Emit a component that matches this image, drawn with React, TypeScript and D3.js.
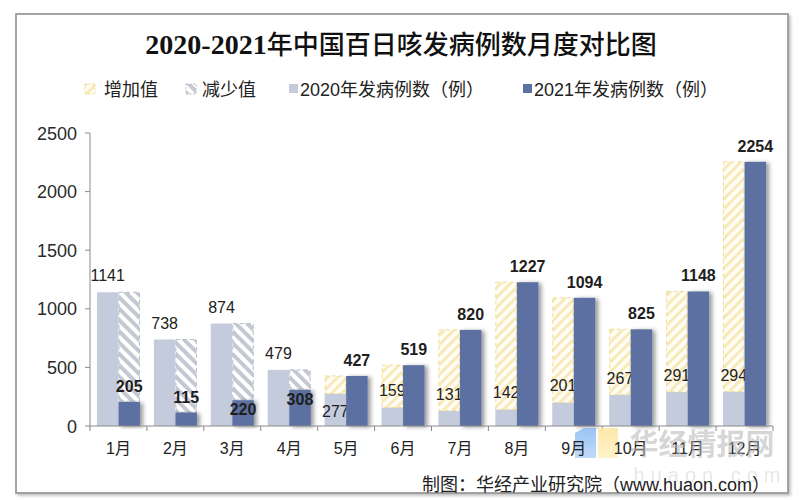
import React from 'react';
import * as d3 from 'd3';

const months = ['1月', '2月', '3月', '4月', '5月', '6月', '7月', '8月', '9月', '10月', '11月', '12月'];
const cases2020 = [1141, 738, 874, 479, 277, 159, 131, 142, 201, 267, 291, 294];
const cases2021 = [205, 115, 220, 308, 427, 519, 820, 1227, 1094, 825, 1148, 2254];
const yTicks = [0, 500, 1000, 1500, 2000, 2500];
const legendLabels = ['增加值', '减少值', '2020年发病例数（例）', '2021年发病例数（例）'];
const titleYears = '2020-2021';
const titleRest = '年中国百日咳发病例数月度对比图';
const sourceText = '制图：华经产业研究院（www.huaon.com）';
const watermark = '华经情报网';
const watermarkUrl = 'huaon.com';
// months whose data labels Excel placed inside the bar end
const inside2020 = ['5月'];
const inside2021 = ['3月', '4月'];

const C_LIGHT = '#c3cbdd';
const C_DARK = '#5b71a1';
const SANS = '"Liberation Sans", Arial, "Noto Sans CJK SC", sans-serif';

export default function App() {
  const x = d3.scaleBand<string>().domain(months).range([90, 773]).padding(0);
  const y = d3.scaleLinear().domain([0, 2500]).range([426, 133]);
  const bw = x.bandwidth() * 0.378;
  const cx = (m: string) => (x(m) as number) + x.bandwidth() / 2;

  const rows = months.map((m, i) => ({ m, a: cases2020[i], b: cases2021[i] }));

  const legendX = [85, 186, 289, 523];

  return (
    <svg width={800} height={500} style={{ position: 'absolute', left: 0, top: 0, display: 'block', background: '#fff' }}>
      <defs>
        <pattern id="hatchY" patternUnits="userSpaceOnUse" width={7} height={7} patternTransform="rotate(45)">
          <rect width={7} height={7} fill="#fffdf6" />
          <rect width={3} height={7} fill="#f8e9b8" />
        </pattern>
        <pattern id="hatchG" patternUnits="userSpaceOnUse" width={8} height={8} patternTransform="rotate(-45)">
          <rect width={8} height={8} fill="#ffffff" />
          <rect width={4} height={8} fill="#c4c8d2" />
        </pattern>
        <filter id="shadow" x="-20%" y="-5%" width="160%" height="115%">
          <feDropShadow dx={3} dy={1} stdDeviation={2.2} floodColor="#000" floodOpacity={0.4} />
        </filter>
        <filter id="frameShadow" x="-5%" y="-5%" width="110%" height="110%">
          <feDropShadow dx={2} dy={2} stdDeviation={1.5} floodColor="#000" floodOpacity={0.25} />
        </filter>
        <linearGradient id="logoBlue" x1="0" y1="0" x2="0" y2="1">
          <stop offset="0" stopColor="#8fbdf3" />
          <stop offset="1" stopColor="#b9d6f7" />
        </linearGradient>
        <linearGradient id="logoYellow" x1="0" y1="0" x2="0" y2="1">
          <stop offset="0" stopColor="#fde6a0" />
          <stop offset="1" stopColor="#fff1c6" />
        </linearGradient>
      </defs>

      {/* frame */}
      <rect x={16} y={14} width={772} height={479} fill="#fff" stroke="#8f8f8f" strokeWidth={1.6} filter="url(#frameShadow)" />

      {/* title */}
      <text x={401} y={54} textAnchor="middle" fill="#111">
        <tspan fontFamily='"Liberation Serif", "Times New Roman", serif' fontWeight={700} fontSize={28}>{titleYears}</tspan>
        <tspan fontFamily='"Noto Sans CJK SC", sans-serif' fontWeight={500} fontSize={26}>{titleRest}</tspan>
      </text>

      {/* legend */}
      <g fontFamily={SANS} fontSize={18} fill="#222">
        <rect x={legendX[0]} y={84} width={10} height={10} fill="url(#hatchY)" stroke="#f0d98c" strokeDasharray="2,1.5" />
        <text x={legendX[0] + 19} y={95.5}>{legendLabels[0]}</text>
        <rect x={legendX[1]} y={84} width={10} height={10} fill="url(#hatchG)" stroke="#b8bcc6" strokeDasharray="2,1.5" />
        <text x={legendX[1] + 16} y={95.5}>{legendLabels[1]}</text>
        <rect x={legendX[2]} y={84} width={9} height={9} fill={C_LIGHT} />
        <text x={legendX[2] + 11} y={95.5}>{legendLabels[2]}</text>
        <rect x={legendX[3]} y={84} width={9} height={9} fill={C_DARK} />
        <text x={legendX[3] + 11} y={95.5}>{legendLabels[3]}</text>
      </g>

      {/* 2020 bars */}
      {rows.map(r => (
        <rect key={'a' + r.m} x={cx(r.m) - bw} y={y(r.a)} width={bw} height={y(0) - y(r.a)} fill={C_LIGHT} />
      ))}

      {/* increase (hatched yellow, above 2020 bar) */}
      {rows.filter(r => r.b > r.a).map(r => (
        <rect key={'inc' + r.m} x={cx(r.m) - bw + 0.5} y={y(r.b)} width={bw - 1} height={y(r.a) - y(r.b)}
          fill="url(#hatchY)" stroke="#f1dc96" strokeWidth={1} strokeDasharray="4,3" />
      ))}

      {/* decrease (hatched gray, above 2021 bar) */}
      {rows.filter(r => r.a > r.b).map(r => (
        <rect key={'dec' + r.m} x={cx(r.m) + 0.5} y={y(r.a)} width={bw - 1} height={y(r.b) - y(r.a)}
          fill="url(#hatchG)" stroke="#b9bdc6" strokeWidth={1} strokeDasharray="4,3" />
      ))}

      {/* 2020 labels */}
      <g fontFamily={SANS} fontSize={16} fill="#222" textAnchor="middle">
        {rows.map(r => {
          const inside = inside2020.includes(r.m);
          const cy = inside ? y(r.a) + 17 : y(r.a) - 17;
          return <text key={'la' + r.m} x={cx(r.m) - bw / 2} y={cy + 6}>{r.a}</text>;
        })}
      </g>

      {/* 2021 bars */}
      {rows.map(r => (
        <rect key={'b' + r.m} x={cx(r.m)} y={y(r.b)} width={bw} height={y(0) - y(r.b)} fill={C_DARK} filter="url(#shadow)" />
      ))}

      {/* 2021 labels */}
      <g fontFamily={SANS} fontSize={16} fontWeight={700} fill="#1e1e1e" textAnchor="middle">
        {rows.map(r => {
          const inside = inside2021.includes(r.m);
          const cy = inside ? y(r.b) + 9 : y(r.b) - 16;
          return <text key={'lb' + r.m} x={cx(r.m) + bw / 2} y={cy + 6}>{r.b}</text>;
        })}
      </g>

      {/* axes */}
      <g stroke="#8a8a8a" strokeWidth={1}>
        <line x1={90} x2={90} y1={y(2500)} y2={y(0)} />
        {yTicks.map(t => (
          <line key={'yt' + t} x1={85} x2={90} y1={y(t)} y2={y(t)} />
        ))}
        <line x1={90} x2={773} y1={y(0)} y2={y(0)} />
        {[...months.map(m => x(m) as number), 773].map((v, i) => (
          <line key={'xt' + i} x1={v} x2={v} y1={y(0)} y2={y(0) + 5} />
        ))}
      </g>
      <g fontFamily={SANS} fontSize={18} fill="#2a2a2a" textAnchor="end">
        {yTicks.map(t => (
          <text key={'yl' + t} x={77} y={y(t) + 6.5}>{t}</text>
        ))}
      </g>

      {/* watermark logo */}
      <polygon points="575,433 584,428 596,428 596,458 575,458" fill="url(#logoBlue)" opacity={0.9} />
      <polygon points="598,428 618,428 618,458 598,458" fill="url(#logoYellow)" opacity={0.9} />

      {/* x labels */}
      <g fontFamily={SANS} fontSize={16} fill="#222" textAnchor="middle">
        {months.map(m => (
          <text key={'xl' + m} x={cx(m)} y={454}>{m}</text>
        ))}
      </g>

      {/* watermark text */}
      <text x={702} y={455} textAnchor="middle" fontFamily='"Noto Sans CJK SC", sans-serif' fontWeight={700}
        fontSize={29} fill="#b5b5b5" opacity={0.55}>{watermark}</text>
      <text x={710} y={482} textAnchor="middle" fontFamily={SANS} fontSize={20} letterSpacing={6}
        fill="#d8d8d8" opacity={0.6}>{watermarkUrl}</text>

      {/* source */}
      <text x={770} y={491} textAnchor="end" fontFamily={SANS} fontSize={18} fill="#222">{sourceText}</text>
    </svg>
  );
}
